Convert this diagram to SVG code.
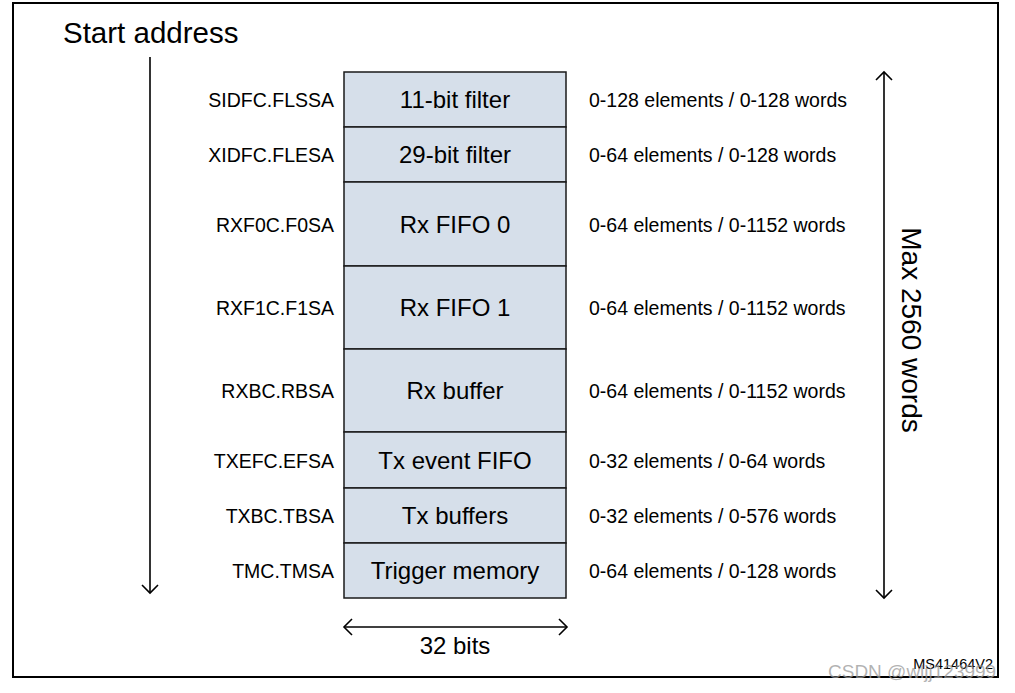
<svg xmlns="http://www.w3.org/2000/svg" width="1015" height="693" viewBox="0 0 1015 693">
<style>
text{font-family:"Liberation Sans",Arial,sans-serif;fill:#000}
.cell{fill:#d6dfea;stroke:#1a1a1a;stroke-width:1.5}
.bl{font-size:24px;text-anchor:middle}
.ll{font-size:19.5px;text-anchor:end}
.rl{font-size:19.5px}
.ln{stroke:#000;stroke-width:1.6;fill:none}
</style>
<defs>
<marker id="ah" viewBox="-10 -10 20 20" markerWidth="20" markerHeight="20" markerUnits="userSpaceOnUse" refX="0" refY="0" orient="auto-start-reverse">
<path d="M-8,-8 L0,0 L-8,8" fill="none" stroke="#000" stroke-width="1.6"/>
</marker>
</defs>
<rect x="13" y="3" width="985" height="674" fill="none" stroke="#000" stroke-width="2"/>
<text x="63" y="43" style="font-size:29.5px">Start address</text>
<g id="connectors">
<line class="ln" x1="150" y1="57" x2="150" y2="593" marker-end="url(#ah)"/>
<line class="ln" x1="884" y1="72" x2="884" y2="598" marker-start="url(#ah)" marker-end="url(#ah)"/>
<line class="ln" x1="344" y1="627" x2="567" y2="627" marker-start="url(#ah)" marker-end="url(#ah)"/>
</g>
<g id="n1"><rect class="cell" x="344" y="72" width="222" height="55"/><text class="bl" x="455" y="108">11-bit filter</text><text class="ll" x="334" y="107">SIDFC.FLSSA</text><text class="rl" x="589" y="107">0-128 elements / 0-128 words</text></g>
<g id="n2"><rect class="cell" x="344" y="127" width="222" height="55"/><text class="bl" x="455" y="163">29-bit filter</text><text class="ll" x="334" y="162">XIDFC.FLESA</text><text class="rl" x="589" y="162">0-64 elements / 0-128 words</text></g>
<g id="n3"><rect class="cell" x="344" y="182" width="222" height="84"/><text class="bl" x="455" y="232.5">Rx FIFO 0</text><text class="ll" x="334" y="231.5">RXF0C.F0SA</text><text class="rl" x="589" y="231.5">0-64 elements / 0-1152 words</text></g>
<g id="n4"><rect class="cell" x="344" y="266" width="222" height="83"/><text class="bl" x="455" y="316">Rx FIFO 1</text><text class="ll" x="334" y="315">RXF1C.F1SA</text><text class="rl" x="589" y="315">0-64 elements / 0-1152 words</text></g>
<g id="n5"><rect class="cell" x="344" y="349" width="222" height="83"/><text class="bl" x="455" y="399">Rx buffer</text><text class="ll" x="334" y="398">RXBC.RBSA</text><text class="rl" x="589" y="398">0-64 elements / 0-1152 words</text></g>
<g id="n6"><rect class="cell" x="344" y="432" width="222" height="56"/><text class="bl" x="455" y="468.5">Tx event FIFO</text><text class="ll" x="334" y="467.5">TXEFC.EFSA</text><text class="rl" x="589" y="467.5">0-32 elements / 0-64 words</text></g>
<g id="n7"><rect class="cell" x="344" y="488" width="222" height="55"/><text class="bl" x="455" y="524">Tx buffers</text><text class="ll" x="334" y="523">TXBC.TBSA</text><text class="rl" x="589" y="523">0-32 elements / 0-576 words</text></g>
<g id="n8"><rect class="cell" x="344" y="543" width="222" height="55"/><text class="bl" x="455" y="579">Trigger memory</text><text class="ll" x="334" y="578">TMC.TMSA</text><text class="rl" x="589" y="578">0-64 elements / 0-128 words</text></g>
<text x="455" y="654" style="font-size:24px;text-anchor:middle">32 bits</text>
<text transform="translate(902,330) rotate(90)" style="font-size:28px;text-anchor:middle">Max 2560 words</text>
<text x="993" y="669" style="font-size:14.5px;text-anchor:end">MS41464V2</text>
<text x="828" y="678" style="font-size:19px;fill:#999;fill-opacity:0.75">CSDN @wljj123999</text>
</svg>
